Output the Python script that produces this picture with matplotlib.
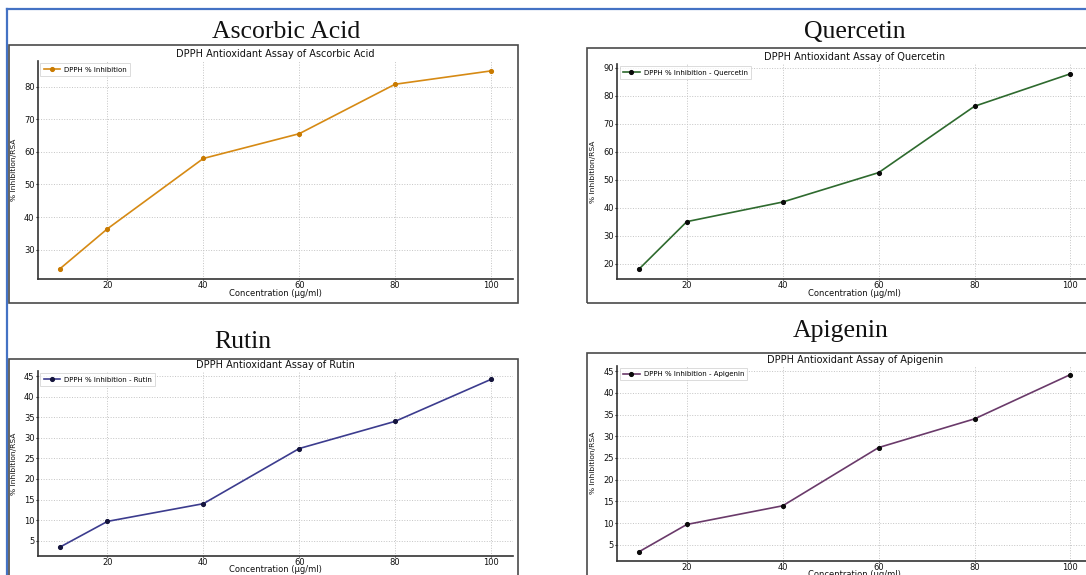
import matplotlib
matplotlib.use("Agg")
import matplotlib.pyplot as plt
from matplotlib.patches import Rectangle
from matplotlib.lines import Line2D

# ---- data ----
conc = [10, 20, 40, 60, 80, 100]
ascorbic = [24.0, 36.4, 58.0, 65.6, 80.8, 84.9]
quercetin = [18.0, 35.0, 42.0, 52.5, 76.2, 87.8]
rutin = [3.4, 9.7, 14.0, 27.4, 34.0, 44.2]
apigenin = [3.4, 9.7, 14.0, 27.4, 34.0, 44.2]

big_titles = ["Ascorbic Acid", "Quercetin", "Rutin", "Apigenin"]
sub_titles = ["DPPH Antioxidant Assay of Ascorbic Acid",
              "DPPH Antioxidant Assay of Quercetin",
              "DPPH Antioxidant Assay of Rutin",
              "DPPH Antioxidant Assay of Apigenin"]
legend_labels = ["DPPH % Inhibition",
                 "DPPH % Inhibition - Quercetin",
                 "DPPH % Inhibition - Rutin",
                 "DPPH % Inhibition - Apigenin"]
x_label = "Concentration (\u00b5g/ml)"
y_label = "% Inhibition/RSA"

W, H = 1086, 575
fig = plt.figure(figsize=(W / 100, H / 100), dpi=100)
fig.patch.set_facecolor("white")


def fx(x):
    return x / W


def fy(y):
    return 1 - y / H


# outer blue border (top & left)
fig.add_artist(Line2D([fx(7), fx(1090)], [fy(9), fy(9)], transform=fig.transFigure,
                      color="#4472C4", lw=1.6, zorder=0))
fig.add_artist(Line2D([fx(7), fx(7)], [fy(9), fy(580)], transform=fig.transFigure,
                      color="#4472C4", lw=1.6, zorder=0))

# panel frames (pixel coordinates: x0, y0(top), x1, y1(bottom))
frames = [(8.5, 45, 517.5, 302.5), (587, 48, 1095, 302.5),
          (8.5, 359, 517.5, 585), (587, 352.5, 1095, 585)]
for (x0, y0, x1, y1) in frames:
    fig.add_artist(Rectangle((fx(x0), fy(y1)), fx(x1 - x0), (y1 - y0) / H,
                             transform=fig.transFigure, fill=False,
                             edgecolor="#4a4a4a", lw=1.2, zorder=0))

# big serif titles (center x, center y)
title_pos = [(286, 31.5), (855, 32), (243, 341.5), (841, 331.5)]
for t, (x, y) in zip(big_titles, title_pos):
    fig.text(fx(x), fy(y), t, ha="center", va="center",
             family="Liberation Serif", fontsize=18.5, color="#111111")

# axes boxes (x0, top, x1, bottom) in pixels
axes_px = [(38, 61, 512.5, 279), (617.3, 64, 1092, 279),
           (38, 371, 512.5, 555.7), (617.3, 365.7, 1092, 560.7)]
series = [ascorbic, quercetin, rutin, apigenin]
line_colors = ["#d68a14", "#2e6a2e", "#3c3c8e", "#6a3a6a"]
marker_colors = ["#c97a00", "#0a0a0a", "#14143c", "#0a0a0a"]
title_pads = [3.0, 3.0, 2.0, 2.2]
xlabel_gap_px = [10.5, 10.5, 9.0, 9.0]   # gap from bottom spine to top of x label

for i, (x0, y0, x1, y1) in enumerate(axes_px):
    ax = fig.add_axes([fx(x0), fy(y1), fx(x1 - x0), (y1 - y0) / H])
    ax.set_facecolor("none")
    ax.plot(conc, series[i], color=line_colors[i], lw=1.2, marker="o",
            markersize=2.7, markerfacecolor=marker_colors[i],
            markeredgecolor=marker_colors[i], label=legend_labels[i])
    ax.grid(True, linestyle=":", color="#c4c4c4", lw=0.7)
    ax.set_axisbelow(True)
    for s in ["top", "right"]:
        ax.spines[s].set_visible(False)
    for s in ["left", "bottom"]:
        ax.spines[s].set_color("#333333")
        ax.spines[s].set_linewidth(1.2)
    ax.tick_params(axis="y", labelsize=6, length=1.5, width=0.8, pad=1,
                   colors="#111111")
    ax.tick_params(axis="x", labelsize=6, length=1.0, width=0.8, pad=0.4,
                   colors="#111111")
    ax.set_title(sub_titles[i], fontsize=7, pad=title_pads[i], color="#111111")
    ax.set_xlabel(x_label, fontsize=6, color="#111111")
    ax.xaxis.set_label_coords(0.5, -xlabel_gap_px[i] / (y1 - y0))
    ax.set_ylabel(y_label, fontsize=5.4, color="#111111")
    ax.yaxis.set_label_coords(-0.045, 0.5)
    leg = ax.legend(loc="upper left", fontsize=5, frameon=True, fancybox=False,
                    borderaxespad=0.35, handlelength=2.4, handletextpad=0.6,
                    borderpad=0.45, edgecolor="#cccccc")
    leg.get_frame().set_linewidth(0.6)

fig.savefig("out.png", dpi=100, facecolor="white")
